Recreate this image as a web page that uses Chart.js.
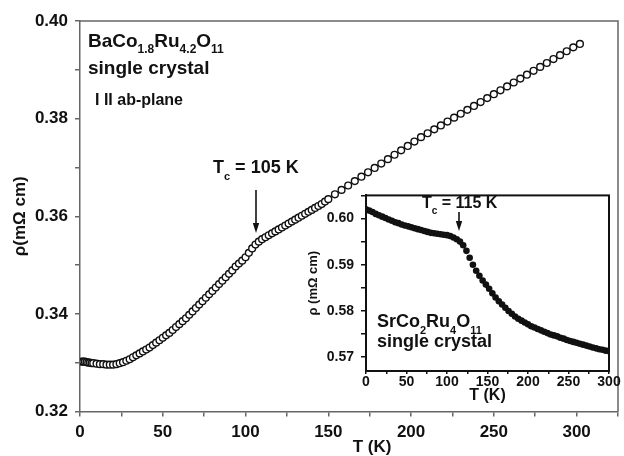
<!DOCTYPE html>
<html>
<head>
<meta charset="utf-8">
<script src="https://cdn.jsdelivr.net/npm/chart.js@4.4.1/dist/chart.umd.min.js"></script>
<style>
body { margin: 0; background: #fff; }
#wrap { position: relative; width: 624px; height: 456px; }
#mainChart { position: absolute; left: 0; top: 0; }
#insetChart { position: absolute; left: 300px; top: 180px; }
</style>
</head>
<body>
<div id="wrap">
  <canvas id="mainChart" width="624" height="456"></canvas>
  <canvas id="insetChart" width="324" height="225"></canvas>
</div>
<script>
// BaCo1.8Ru4.2O11, main panel (T in K, rho in mOhm cm)
var tempBa = [1, 2, 3, 4, 5, 6, 7, 8,
  10, 12, 14, 16, 18, 20, 22, 24, 26, 28, 30, 32, 34, 36, 38, 40, 42, 44, 46, 48, 50,
  52, 54, 56, 58, 60, 62, 64, 66, 68, 70, 72, 74, 76, 78, 80, 82, 84, 86, 88, 90,
  92, 94, 96, 98, 100, 102, 104, 106, 108, 110, 112, 114, 116, 118, 120, 122, 124,
  126, 128, 130, 132, 134, 136, 138, 140, 142, 144, 146, 148, 150,
  154, 158, 162, 166, 170, 174, 178, 182, 186, 190, 194, 198, 202, 206, 210, 214,
  218, 222, 226, 230, 234, 238, 242, 246, 250, 254, 258, 262, 266, 270, 274, 278,
  282, 286, 290, 294, 298, 302];
var rhoBa = [0.3302, 0.3302, 0.3302, 0.3301, 0.3300, 0.3300, 0.3299, 0.3299,
  0.3298, 0.3297, 0.3297, 0.3296, 0.3296, 0.3296, 0.3297, 0.3299, 0.3301, 0.3304, 0.3307,
  0.3311, 0.3315, 0.3319, 0.3323, 0.3327, 0.3331, 0.3336, 0.3341, 0.3346, 0.3351,
  0.3356, 0.3361, 0.3367, 0.3373, 0.3379, 0.3385, 0.3391, 0.3398, 0.3405, 0.3412,
  0.3419, 0.3426, 0.3433, 0.3440, 0.3447, 0.3454, 0.3461, 0.3468, 0.3475, 0.3482,
  0.3489, 0.3497, 0.3503, 0.3509, 0.3516, 0.3525, 0.3534, 0.3542, 0.3548, 0.3553,
  0.3557, 0.3561, 0.3565, 0.3569, 0.3573, 0.3577, 0.3581, 0.3585, 0.3589, 0.3593,
  0.3597, 0.3601, 0.3605, 0.3609, 0.3613, 0.3617, 0.3621, 0.3625, 0.3630, 0.3635,
  0.3645, 0.3654, 0.3663, 0.3672, 0.3681, 0.3690, 0.3699, 0.3708, 0.3717, 0.3726,
  0.3735, 0.3744, 0.3753, 0.3762, 0.3770, 0.3778, 0.3786, 0.3794, 0.3802, 0.3810,
  0.3818, 0.3826, 0.3834, 0.3842, 0.3850, 0.3858, 0.3866, 0.3874, 0.3882, 0.3890,
  0.3898, 0.3906, 0.3914, 0.3922, 0.3930, 0.3938, 0.3946, 0.3953];

// SrCo2Ru4O11, inset
var tempSr = [0, 4, 8, 12, 16, 20, 24, 28, 32, 36, 40, 44, 48, 52, 56, 60, 64, 68, 72, 76,
  80, 84, 88, 92, 96, 100, 104, 108, 112, 116, 120, 124, 128, 132, 136, 140, 144, 148,
  152, 156, 160, 164, 168, 172, 176, 180, 184, 188, 192, 196, 200, 204, 208, 212, 216,
  220, 224, 228, 232, 236, 240, 244, 248, 252, 256, 260, 264, 268, 272, 276, 280, 284,
  288, 292, 296, 300];
var rhoSr = [0.6020, 0.6017, 0.6014, 0.6010, 0.6007, 0.6004, 0.6001, 0.5998, 0.5995, 0.5992,
  0.5990, 0.5987, 0.5985, 0.5983, 0.5981, 0.5979, 0.5977, 0.5975, 0.5973, 0.5971,
  0.5969, 0.5968, 0.5967, 0.5966, 0.5965, 0.5964, 0.5962, 0.5959, 0.5955, 0.5950,
  0.5942, 0.5930, 0.5915, 0.5900, 0.5887, 0.5876, 0.5866, 0.5857, 0.5848, 0.5838,
  0.5829, 0.5821, 0.5814, 0.5807, 0.5800, 0.5794, 0.5788, 0.5783, 0.5779, 0.5775,
  0.5771, 0.5767, 0.5764, 0.5761, 0.5758, 0.5755, 0.5752, 0.5749, 0.5747, 0.5745,
  0.5742, 0.5740, 0.5737, 0.5735, 0.5733, 0.5731, 0.5729, 0.5727, 0.5725, 0.5723,
  0.5721, 0.5719, 0.5717, 0.5716, 0.5714, 0.5713];

var mainXLabels = [0, 50, 100, 150, 200, 250, 300];
var mainYLabels = ['0.32', '0.34', '0.36', '0.38', '0.40'];
var insetXLabels = [0, 50, 100, 150, 200, 250, 300];
var insetYLabels = ['0.57', '0.58', '0.59', '0.60'];

var FAM = "'Liberation Sans', Arial, sans-serif";
var INK = '#111';

function pts(xs, ys) {
  return xs.map(function (t, i) { return { x: t, y: ys[i] }; });
}

// text with subscripts: parts = [[text, isSub], ...]
function chem(ctx, parts, x, y, size, subSize, subDy) {
  ctx.textAlign = 'left';
  ctx.textBaseline = 'alphabetic';
  parts.forEach(function (p) {
    ctx.font = 'bold ' + (p[1] ? subSize : size) + 'px ' + FAM;
    ctx.fillText(p[0], x, y + (p[1] ? subDy : 0));
    x += ctx.measureText(p[0]).width;
  });
}

function arrow(ctx, x, y0, y1) {
  ctx.strokeStyle = INK;
  ctx.lineWidth = 1.6;
  ctx.beginPath(); ctx.moveTo(x, y0); ctx.lineTo(x, y1 - 6); ctx.stroke();
  ctx.fillStyle = INK;
  ctx.beginPath(); ctx.moveTo(x, y1); ctx.lineTo(x - 3.2, y1 - 10); ctx.lineTo(x + 3.2, y1 - 10); ctx.closePath(); ctx.fill();
}

var mainDecor = {
  id: 'mainDecor',
  afterDraw: function (chart) {
    var ctx = chart.ctx, a = chart.chartArea;
    ctx.save();
    ctx.strokeStyle = '#666';
    ctx.lineWidth = 1.5;
    ctx.beginPath();
    ctx.moveTo(a.left, a.top); ctx.lineTo(a.right, a.top); ctx.lineTo(a.right, a.bottom);
    ctx.stroke();
    ctx.fillStyle = INK;
    chem(ctx, [['BaCo', 0], ['1.8', 1], ['Ru', 0], ['4.2', 1], ['O', 0], ['11', 1]], 88, 47, 19, 12, 6);
    chem(ctx, [['single crystal', 0]], 88, 74, 19, 12, 6);
    chem(ctx, [['I II ab-plane', 0]], 95, 105, 16, 12, 6);
    chem(ctx, [['T', 0], ['c', 1], [' = 105 K', 0]], 213, 173, 18, 11, 7);
    arrow(ctx, 256, 190, 233);
    ctx.font = 'bold 17px ' + FAM;
    ctx.textAlign = 'center';
    ctx.textBaseline = 'middle';
    ctx.fillText('T (K)', 372, 447);
    ctx.restore();
  }
};

var insetDecor = {
  id: 'insetDecor',
  afterDraw: function (chart) {
    var ctx = chart.ctx, a = chart.chartArea;
    ctx.save();
    ctx.strokeStyle = INK;
    ctx.lineWidth = 2;
    ctx.strokeRect(a.left, a.top, a.right - a.left, a.bottom - a.top);
    ctx.fillStyle = INK;
    chem(ctx, [['T', 0], ['c', 1], [' = 115 K', 0]], 122, 28, 16, 10, 6);
    arrow(ctx, 159, 32, 51);
    chem(ctx, [['SrCo', 0], ['2', 1], ['Ru', 0], ['4', 1], ['O', 0], ['11', 1]], 77, 147, 18, 11, 7);
    chem(ctx, [['single crystal', 0]], 77, 167, 18, 11, 7);
    ctx.restore();
  }
};

function tickFont(size) { return { family: FAM, size: size, weight: 'bold' }; }

new Chart(document.getElementById('mainChart').getContext('2d'), {
  type: 'scatter',
  data: {
    datasets: [{
      label: 'BaCo1.8Ru4.2O11',
      data: pts(tempBa, rhoBa),
      showLine: false,
      pointStyle: 'circle',
      pointRadius: 3.4,
      pointBorderWidth: 1.4,
      pointBackgroundColor: '#fff',
      pointBorderColor: INK
    }]
  },
  options: {
    responsive: false,
    animation: false,
    devicePixelRatio: 1,
    layout: { padding: { top: 21, right: 2, left: 0, bottom: 0 } },
    plugins: { legend: { display: false }, tooltip: { enabled: false } },
    scales: {
      x: {
        type: 'linear', min: 0, max: 325,
        afterFit: function (s) { s.height = 44.5; },
        border: { display: true, color: '#666', width: 1.5 },
        grid: { display: true, drawOnChartArea: false, tickLength: 5, color: '#666', lineWidth: 1.5 },
        ticks: {
          stepSize: 25, includeBounds: false, autoSkip: false, maxRotation: 0, padding: 6,
          color: INK, font: tickFont(17),
          callback: function (v) { return mainXLabels.indexOf(v) >= 0 ? String(v) : ''; }
        }
      },
      y: {
        type: 'linear', min: 0.32, max: 0.40,
        afterFit: function (s) { s.width = 80; },
        border: { display: true, color: '#666', width: 1.5 },
        grid: { display: true, drawOnChartArea: false, tickLength: 5, color: '#666', lineWidth: 1.5 },
        ticks: {
          stepSize: 0.01, includeBounds: false, autoSkip: false, padding: 7,
          color: INK, font: tickFont(17),
          callback: function (v) { var s = v.toFixed(2); return mainYLabels.indexOf(s) >= 0 ? s : ''; }
        },
        title: { display: true, text: 'ρ(mΩ cm)', color: INK, font: tickFont(17), padding: { top: 10, bottom: 0 } }
      }
    }
  },
  plugins: [mainDecor]
});

new Chart(document.getElementById('insetChart').getContext('2d'), {
  type: 'scatter',
  data: {
    datasets: [{
      label: 'SrCo2Ru4O11',
      data: pts(tempSr, rhoSr),
      showLine: false,
      pointStyle: 'circle',
      pointRadius: 3.3,
      pointBorderWidth: 0,
      pointBackgroundColor: INK
    }]
  },
  options: {
    responsive: false,
    animation: false,
    devicePixelRatio: 1,
    layout: { padding: { top: 9, right: 15, left: 0, bottom: 0 } },
    plugins: { legend: { display: false }, tooltip: { enabled: false } },
    scales: {
      x: {
        type: 'linear', min: 0, max: 300,
        afterFit: function (s) { s.height = 34; },
        border: { display: true, color: INK, width: 2 },
        grid: { display: true, drawOnChartArea: false, tickLength: 3, color: INK, lineWidth: 1.5 },
        ticks: {
          stepSize: 25, includeBounds: false, autoSkip: false, maxRotation: 0, padding: 0,
          color: INK, font: tickFont(14),
          callback: function (v) { return insetXLabels.indexOf(v) >= 0 ? String(v) : ''; }
        },
        title: { display: true, text: 'T (K)', color: INK, font: tickFont(16), padding: { top: 0, bottom: 0 } }
      },
      y: {
        type: 'linear', min: 0.567, max: 0.605,
        afterFit: function (s) { s.width = 66; },
        border: { display: true, color: INK, width: 2 },
        grid: { display: true, drawOnChartArea: false, tickLength: 5, color: INK, lineWidth: 1.5 },
        ticks: {
          stepSize: 0.005, includeBounds: false, autoSkip: false, padding: 7,
          color: INK, font: tickFont(14),
          callback: function (v) { var s = v.toFixed(2); return (insetYLabels.indexOf(s) >= 0 && Math.abs(v - parseFloat(s)) < 1e-6) ? s : ''; }
        },
        title: { display: true, text: 'ρ (mΩ cm)', color: INK, font: tickFont(13), padding: { top: 6, bottom: 0 } }
      }
    }
  },
  plugins: [insetDecor]
});
</script>
</body>
</html>
